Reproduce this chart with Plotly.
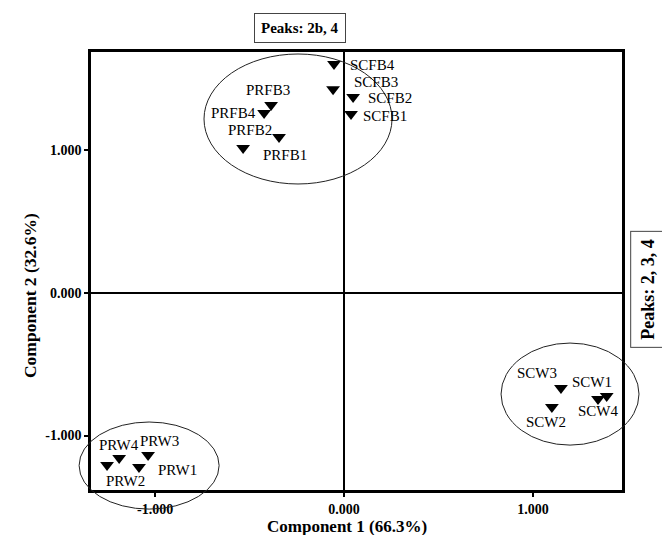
import plotly.graph_objects as go

# ---- data ----
labels = ["SCFB4", "SCFB3", "SCFB2", "SCFB1", "PRFB3", "PRFB4", "PRFB2", "PRFB1",
          "SCW3", "SCW1", "SCW4", "SCW2", "PRW3", "PRW4", "PRW1", "PRW2"]
comp1 = [-0.053, -0.058, 0.048, 0.037, -0.386, -0.423, -0.534, -0.344,
         1.148, 1.390, 1.344, 1.100, -1.037, -1.190, -1.085, -1.254]
comp2 = [1.607, 1.430, 1.375, 1.256, 1.319, 1.263, 1.018, 1.095,
         -0.667, -0.723, -0.744, -0.800, -1.137, -1.158, -1.221, -1.207]

# label offsets from their marker, in pixels (style only)
label_dx = [38, 43, 37, 34, -3, -31, 7, 6, -24, -15, 0, -6, 11, 0, 38, 18]
label_dy = [-1, 7, -1, -2, 15, 0, 18, -18, 15, 14, -12, -15, 14, 13, -3, -16]

# cluster ellipses (x0, x1, y0, y1) in component units
ellipses = [(-0.741, 0.254, 0.765, 1.677),
            (0.831, 1.561, -1.067, -0.351),
            (-1.402, -0.661, -1.516, -0.905)]

tick_vals = [-1.0, 0.0, 1.0]
tick_text = ["-1.000", "0.000", "1.000"]

x_range = [-1.339, 1.471]
y_range = [-1.382, 1.691]

FONT = "Liberation Serif"

fig = go.Figure()
fig.add_trace(go.Scatter(
    x=comp1, y=comp2, mode="markers", text=labels,
    marker=dict(symbol="triangle-down", size=12, color="black"),
    cliponaxis=False, showlegend=False, hoverinfo="text"))


def px(v):
    return (v - x_range[0]) / (x_range[1] - x_range[0])


def py(v):
    return (v - y_range[0]) / (y_range[1] - y_range[0])


shapes = []
for (x0, x1, y0, y1) in ellipses:
    shapes.append(dict(type="circle", xref="paper", yref="paper",
                       x0=px(x0), x1=px(x1), y0=py(y0), y1=py(y1),
                       line=dict(color="#222", width=1)))

annotations = []
for lab, xv, yv, dx, dy in zip(labels, comp1, comp2, label_dx, label_dy):
    annotations.append(dict(text=lab, x=xv, y=yv, xref="x", yref="y",
                            xshift=dx, yshift=dy, showarrow=False,
                            xanchor="center", yanchor="middle",
                            font=dict(family=FONT, size=15, color="black")))

annotations += [
    dict(text="<b>Component 1 (66.3%)</b>", xref="paper", yref="paper",
         x=0.482, y=-0.083, xanchor="center", yanchor="middle", showarrow=False,
         font=dict(family=FONT, size=17, color="black")),
    dict(text="<b>Component 2 (32.6%)</b>", xref="paper", yref="paper",
         x=-0.115, y=0.445, xanchor="center", yanchor="middle", showarrow=False,
         textangle=-90, font=dict(family=FONT, size=17.5, color="black")),
    dict(text="<b>Peaks: 2b, 4</b>", xref="paper", yref="paper",
         x=0.394, y=1.054, xanchor="center", yanchor="middle", showarrow=False,
         bordercolor="#444", borderwidth=1, borderpad=6, bgcolor="white",
         font=dict(family=FONT, size=15, color="black")),
    dict(text="<b>Peaks: 2, 3, 4</b>", xref="paper", yref="paper",
         x=1.049, y=0.457, xanchor="center", yanchor="middle", showarrow=False,
         textangle=-90, bordercolor="#444", borderwidth=1, borderpad=7,
         bgcolor="white", font=dict(family=FONT, size=18, color="black")),
]

axis_common = dict(showgrid=False, zeroline=True, zerolinecolor="black", zerolinewidth=2,
                   showline=True, mirror=True, linecolor="black", linewidth=2.5,
                   ticks="outside", ticklen=4, tickwidth=1.5, tickcolor="black",
                   tickvals=tick_vals, ticktext=tick_text,
                   tickfont=dict(family=FONT, size=14, color="black", weight="bold"))

fig.update_layout(
    width=662, height=535,
    margin=dict(l=91, r=40, t=52, b=45),
    paper_bgcolor="white", plot_bgcolor="white",
    font=dict(family=FONT, color="black"),
    shapes=shapes,
    annotations=annotations,
    xaxis=dict(range=x_range, **axis_common),
    yaxis=dict(range=y_range, **axis_common),
)

fig.write_html("out.html", config={"displayModeBar": False},
               post_script="document.body.style.margin='0';document.body.style.overflow='hidden';")
